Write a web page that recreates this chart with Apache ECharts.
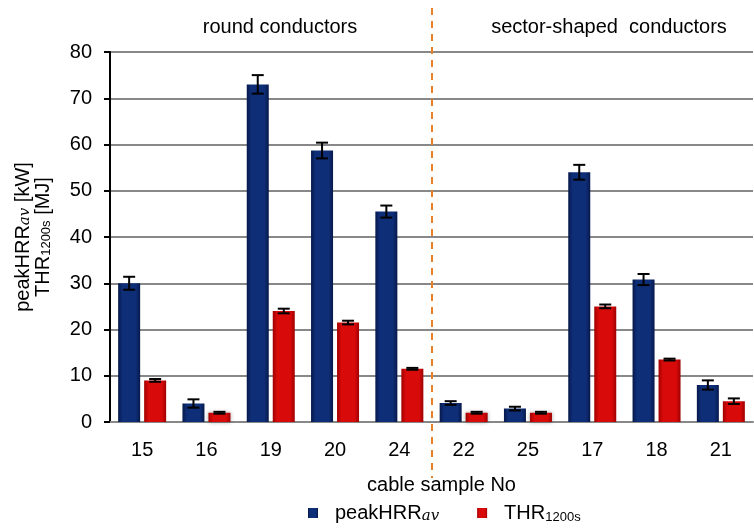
<!DOCTYPE html>
<html>
<head>
<meta charset="utf-8">
<script src="https://cdn.jsdelivr.net/npm/echarts@6/dist/echarts.min.js"></script>
<style>
  html, body { margin: 0; padding: 0; background: #fff; }
  #chart { width: 754px; height: 529px; }
</style>
</head>
<body>
<div id="chart"></div>
<script>
// cable sample numbers (round conductors first, then sector-shaped)
const categories = ['15', '16', '19', '20', '24', '22', '25', '17', '18', '21']
const peakHRR = [30.0, 4.0, 73.0, 58.7, 45.5, 4.1, 2.9, 54.0, 30.8, 8.0]
const peakHRRErr = [1.4, 0.9, 2.0, 1.7, 1.3, 0.4, 0.4, 1.6, 1.2, 1.0]
const thr = [9.0, 2.0, 24.0, 21.5, 11.5, 2.0, 2.0, 25.0, 13.5, 4.5]
const thrErr = [0.3, 0.2, 0.5, 0.4, 0.2, 0.2, 0.2, 0.4, 0.2, 0.6]
const groupLabels = ['round conductors', 'sector-shaped  conductors']
const lastRoundIndex = 4 // '24' is the last round conductor sample

const font = 'Liberation Sans, Arial, sans-serif'
const fs = 20
const barWidth = 22
const barGapPx = 4

function grad (edge, mid) {
  return new echarts.graphic.LinearGradient(0, 0, 1, 0, [
    { offset: 0, color: edge },
    { offset: 0.2, color: mid },
    { offset: 0.8, color: mid },
    { offset: 1, color: edge }
  ])
}

function errSeries (values, errs, shift) {
  return {
    type: 'custom',
    silent: true,
    z: 5,
    data: values.map((v, i) => [i, v - errs[i], v + errs[i]]),
    renderItem: function (params, api) {
      const lo = api.coord([api.value(0), api.value(1)])
      const hi = api.coord([api.value(0), api.value(2)])
      const x = lo[0] + shift
      const half = 6
      const st = { stroke: '#000', lineWidth: 2 }
      return {
        type: 'group',
        children: [
          { type: 'line', shape: { x1: x, y1: hi[1], x2: x, y2: lo[1] }, style: st },
          { type: 'line', shape: { x1: x - half, y1: hi[1], x2: x + half, y2: hi[1] }, style: st },
          { type: 'line', shape: { x1: x - half, y1: lo[1], x2: x + half, y2: lo[1] }, style: st }
        ]
      }
    }
  }
}

const shift = (barWidth + barGapPx) / 2
const subRich = {
  n: { fontSize: fs, fontFamily: font, color: '#000' },
  f: { fontSize: fs, fontFamily: font, color: '#000', padding: [0, 0, 0, 12] },
  it: { fontSize: 15, fontFamily: 'DejaVu Serif, serif', fontStyle: 'italic', color: '#000', verticalAlign: 'bottom', padding: [7, 0, 0, 0] },
  s: { fontSize: 13, fontFamily: font, color: '#000', verticalAlign: 'bottom', padding: [8, 0, 0, 0] }
}

const chart = echarts.init(document.getElementById('chart'))
chart.setOption({
  animation: false,
  grid: { left: 110, right: 1, top: 52, bottom: 107 },
  legend: {
    bottom: 0,
    left: 303,
    itemWidth: 10,
    itemHeight: 10,
    itemGap: 38,
    icon: 'rect',
    textStyle: { fontSize: fs, fontFamily: font, color: '#000', rich: subRich },
    formatter: function (name) {
      return name === 'peakHRR' ? '{f|peakHRR}{it|av}' : '{f|THR}{s|1200s}'
    },
    data: ['peakHRR', 'THR']
  },
  xAxis: {
    type: 'category',
    data: categories,
    name: 'cable sample No',
    nameLocation: 'middle',
    nameGap: 53,
    nameTextStyle: { fontSize: fs, fontFamily: font, color: '#000', padding: [0, 0, 0, 20] },
    axisLine: { lineStyle: { color: '#888', width: 2 } },
    axisTick: { length: 6, lineStyle: { color: '#888', width: 2 } },
    axisLabel: { fontSize: fs, fontFamily: font, color: '#000', margin: 18 }
  },
  yAxis: {
    type: 'value',
    min: 0,
    max: 80,
    interval: 10,
    name: '{n|peakHRR}{it|av}{n| [kW]}\n{n|THR}{s|1200s}{n| [MJ]}',
    nameLocation: 'middle',
    nameRotate: 90,
    nameGap: 57,
    nameTextStyle: { align: 'center', lineHeight: 20, rich: subRich },
    axisLine: { show: true, lineStyle: { color: '#000', width: 2 } },
    axisTick: { show: true, length: 6, lineStyle: { color: '#000', width: 2 } },
    axisLabel: { fontSize: fs, fontFamily: font, color: '#000', margin: 18 },
    splitLine: { lineStyle: { color: '#888', width: 2 } }
  },
  series: [
    {
      name: 'peakHRR',
      type: 'bar',
      data: peakHRR,
      barWidth: barWidth,
      barGap: (barGapPx / barWidth * 100) + '%',
      itemStyle: {
        color: grad('#06184a', '#0f2e78'),
        shadowBlur: 4,
        shadowColor: 'rgba(0,0,0,0.35)'
      }
    },
    {
      name: 'THR',
      type: 'bar',
      data: thr,
      barWidth: barWidth,
      itemStyle: {
        color: grad('#a00000', '#d80a0a'),
        shadowBlur: 4,
        shadowColor: 'rgba(0,0,0,0.35)'
      }
    },
    errSeries(peakHRR, peakHRRErr, -shift),
    errSeries(thr, thrErr, shift)
  ]
})

// separator line between the two conductor groups + group titles
const pA = chart.convertToPixel({ xAxisIndex: 0 }, lastRoundIndex)
const pB = chart.convertToPixel({ xAxisIndex: 0 }, lastRoundIndex + 1)
const sepX = Math.round((pA + pB) / 2)
chart.setOption({
  graphic: [
    {
      type: 'line',
      shape: { x1: sepX, y1: 8, x2: sepX, y2: 478 },
      style: { stroke: '#e8802a', lineWidth: 2, lineDash: [7, 6] },
      z: 10
    },
    {
      type: 'text',
      x: 280,
      y: 27,
      style: { text: groupLabels[0], fontSize: fs, fontFamily: font, fill: '#000', align: 'center', verticalAlign: 'middle' }
    },
    {
      type: 'text',
      x: 609,
      y: 27,
      style: { text: groupLabels[1], fontSize: fs, fontFamily: font, fill: '#000', align: 'center', verticalAlign: 'middle' }
    }
  ]
})
</script>
</body>
</html>
